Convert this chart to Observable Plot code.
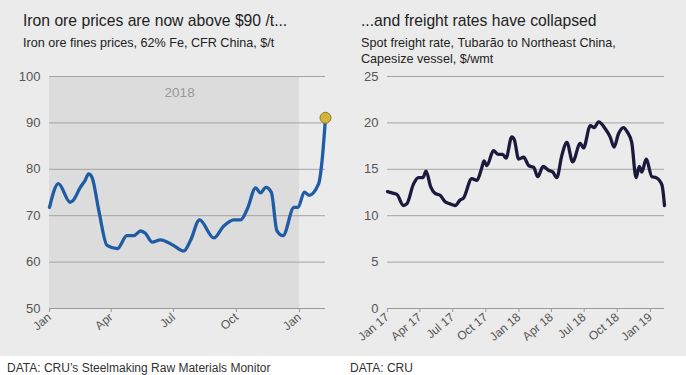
<!DOCTYPE html>
<html>
<head>
<meta charset="utf-8">
<script src="https://cdn.jsdelivr.net/npm/d3@7"></script>
<script src="https://cdn.jsdelivr.net/npm/@observablehq/plot@0.6"></script>
<style>
  html, body { margin: 0; padding: 0; background: #ffffff; }
  #page { position: relative; width: 686px; height: 375px; font-family: "Liberation Sans", Arial, sans-serif; overflow: hidden; }
  #panel { position: absolute; left: 0; top: 0; width: 686px; height: 356px; background: #ebebeb; }
  .t { position: absolute; white-space: nowrap; color: #222; }
  .title { font-size: 15.7px; }
  .sub { font-size: 12.6px; line-height: 16px; }
  .src { font-size: 12px; color: #333; }
  .chart { position: absolute; top: 60px; }
</style>
</head>
<body>
<div id="page">
  <div id="panel"></div>
  <div class="t title" style="left:23px; top:12px;">Iron ore prices are now above $90 /t...</div>
  <div class="t sub" style="left:23px; top:35px;">Iron ore fines prices, 62% Fe, CFR China, $/t</div>
  <div class="t title" style="left:361px; top:12px;">...and freight rates have collapsed</div>
  <div class="t sub" style="left:361px; top:35px;">Spot freight rate, Tubarão to Northeast China,<br>Capesize vessel, $/wmt</div>
  <div id="left" class="chart" style="left:0px;"></div>
  <div id="right" class="chart" style="left:343px;"></div>
  <div class="t src" style="left:7px; top:361px;">DATA: CRU’s Steelmaking Raw Materials Monitor</div>
  <div class="t src" style="left:350px; top:361px;">DATA: CRU</div>
</div>
<script>
// ---- Left chart: iron ore price ($/t) ----
const ironDates = ["2018-01-01","2018-01-14","2018-01-31","2018-02-04","2018-02-15","2018-02-22","2018-02-27","2018-03-04","2018-03-14","2018-03-26","2018-04-10","2018-04-24","2018-05-04","2018-05-14","2018-05-21","2018-05-31","2018-06-12","2018-07-01","2018-07-16","2018-07-26","2018-08-08","2018-08-29","2018-09-12","2018-09-27","2018-10-07","2018-10-17","2018-10-29","2018-11-05","2018-11-13","2018-11-21","2018-11-29","2018-12-08","2018-12-24","2018-12-30","2019-01-08","2019-01-15","2019-01-29","2019-02-03","2019-02-08"];
const ironValues = [71.8,76.9,72.9,73.2,76.1,77.6,79.0,78.3,71.1,63.6,62.9,65.7,65.7,66.7,66.2,64.3,64.8,63.6,62.4,64.7,69.1,65.2,67.7,69.1,69.1,71.5,76.0,74.9,76.1,75.0,66.8,65.7,71.8,71.8,75.1,74.4,76.9,81.9,91.1];
const ironYTicks = [50,60,70,80,90,100];
const ironDomainX = ["2018-01-01","2019-02-08"];
const shadeYear = ["2018-01-01","2019-01-01"];
const shadeLabel = "2018";

// ---- Right chart: freight rate ($/wmt) ----
const freightDates = ["2017-01-01","2017-01-18","2017-01-27","2017-02-14","2017-02-24","2017-03-14","2017-03-28","2017-04-09","2017-04-18","2017-05-01","2017-05-13","2017-05-27","2017-06-10","2017-06-22","2017-07-08","2017-07-22","2017-07-31","2017-08-23","2017-09-06","2017-09-20","2017-09-26","2017-10-04","2017-10-22","2017-11-05","2017-11-17","2017-11-26","2017-12-12","2017-12-19","2017-12-31","2018-01-14","2018-01-28","2018-02-11","2018-02-22","2018-03-09","2018-03-24","2018-04-05","2018-04-16","2018-04-30","2018-05-14","2018-05-30","2018-06-20","2018-06-29","2018-07-18","2018-07-29","2018-08-10","2018-08-28","2018-09-11","2018-09-22","2018-10-04","2018-10-18","2018-10-29","2018-11-10","2018-11-22","2018-12-01","2018-12-08","2018-12-20","2019-01-05","2019-01-17","2019-02-02","2019-02-09"];
const freightValues = [12.6,12.4,12.3,11.1,11.3,13.4,14.1,14.1,14.8,13.1,12.4,12.2,11.5,11.3,11.1,11.7,11.9,14.0,13.8,15.2,15.9,15.4,17.0,16.6,16.6,16.2,18.5,18.2,16.1,16.3,15.4,15.2,14.2,15.3,14.9,14.7,14.1,16.5,17.9,15.8,17.8,17.3,19.7,19.5,20.1,19.4,18.5,17.4,18.8,19.5,19.0,17.9,14.1,15.3,14.7,16.1,14.2,14.1,13.3,11.1];
const freightYTicks = [0,5,10,15,20,25];
const freightDomainX = ["2017-01-01","2019-02-09"];

const P = d3.utcParse("%Y-%m-%d");
const iron = ironDates.map((d, i) => ({date: P(d), value: ironValues[i]}));
const freight = freightDates.map((d, i) => ({date: P(d), value: freightValues[i]}));

const baseStyle = {background: "transparent", fontFamily: "'Liberation Sans', Arial, sans-serif", fontSize: "12px", color: "#555", overflow: "visible"};

const left = Plot.plot({
  width: 343, height: 290,
  marginLeft: 49, marginRight: 18, marginTop: 16, marginBottom: 42,
  style: baseStyle,
  x: {type: "utc", domain: ironDomainX.map(P)},
  y: {domain: [ironYTicks[0], ironYTicks[ironYTicks.length - 1]]},
  marks: [
    Plot.rect([{x1: P(shadeYear[0]), x2: P(shadeYear[1])}], {x1: "x1", x2: "x2", y1: ironYTicks[0], y2: ironYTicks[ironYTicks.length - 1], fill: "#dcdcdc"}),
    Plot.ruleY(ironYTicks.slice(1), {stroke: "#a3a3a3", strokeWidth: 1}),
    Plot.ruleY([ironYTicks[0]], {stroke: "#9a9a9a", strokeWidth: 1}),
    Plot.axisY({ticks: ironYTicks, tickSize: 0, tickPadding: 9, label: null, fill: "#555", fontSize: 13}),
    Plot.axisX({ticks: d3.utcMonth.every(3), tickFormat: d3.utcFormat("%b"), tickRotate: -40, tickSize: 4, tickPadding: 3, stroke: "#999", fill: "#555", label: null, fontSize: 12}),
    Plot.text([shadeLabel], {x: () => P("2018-07-10"), y: () => 96.5, text: d => d, fill: "#999", fontSize: 13.5}),
    Plot.line(iron, {x: "date", y: "value", stroke: "#1f5ca5", strokeWidth: 3.3, curve: "monotone-x", strokeLinejoin: "round", strokeLinecap: "round"}),
    Plot.dot(iron.slice(-1), {x: "date", y: "value", r: 5.5, fill: "#d4b437", stroke: "#8a7a35", strokeWidth: 1})
  ]
});
document.getElementById("left").appendChild(left);

const right = Plot.plot({
  width: 343, height: 290,
  marginLeft: 44, marginRight: 22, marginTop: 16, marginBottom: 42,
  style: baseStyle,
  x: {type: "utc", domain: freightDomainX.map(P)},
  y: {domain: [freightYTicks[0], freightYTicks[freightYTicks.length - 1]]},
  marks: [
    Plot.ruleY(freightYTicks.slice(1), {stroke: "#a3a3a3", strokeWidth: 1}),
    Plot.ruleY([freightYTicks[0]], {stroke: "#9a9a9a", strokeWidth: 1}),
    Plot.axisY({ticks: freightYTicks, tickSize: 0, tickPadding: 9, label: null, fill: "#555", fontSize: 13}),
    Plot.axisX({ticks: d3.utcMonth.every(3), tickFormat: d3.utcFormat("%b %y"), tickRotate: -40, tickSize: 4, tickPadding: 3, stroke: "#999", fill: "#555", label: null, fontSize: 12}),
    Plot.line(freight, {x: "date", y: "value", stroke: "#1c1a3c", strokeWidth: 3.3, curve: "monotone-x", strokeLinejoin: "round", strokeLinecap: "round"})
  ]
});
document.getElementById("right").appendChild(right);
</script>
</body>
</html>
